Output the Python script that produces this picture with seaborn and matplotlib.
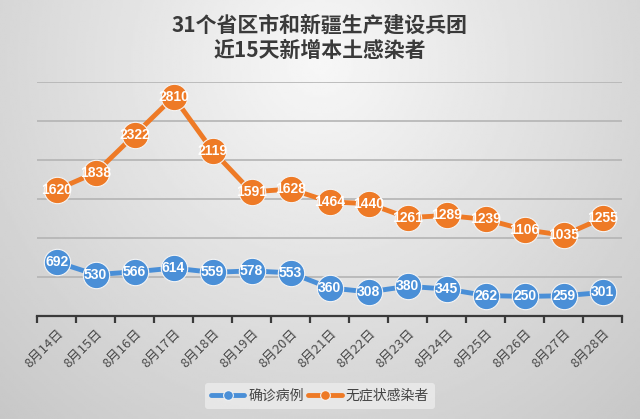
import numpy as np
import pandas as pd
import seaborn as sns
from matplotlib import pyplot as plt
import matplotlib.ticker as mtick

# data
dates = ['8月14日', '8月15日', '8月16日', '8月17日', '8月18日', '8月19日', '8月20日', '8月21日',
         '8月22日', '8月23日', '8月24日', '8月25日', '8月26日', '8月27日', '8月28日']
confirmed = [692, 530, 566, 614, 559, 578, 553, 360, 308, 380, 345, 262, 250, 259, 301]
asymptomatic = [1620, 1838, 2322, 2810, 2119, 1591, 1628, 1464, 1440, 1261, 1289, 1239, 1106, 1035, 1255]
series_names = ['确诊病例', '无症状感染者']
title = '31个省区市和新疆生产建设兵团\n近15天新增本土感染者'

sns.set_theme(style='white')
plt.rcParams['font.family'] = ['Noto Sans CJK SC', 'DejaVu Sans']

df = pd.concat([
    pd.DataFrame({'date': dates, 'value': confirmed, 'series': series_names[0]}),
    pd.DataFrame({'date': dates, 'value': asymptomatic, 'series': series_names[1]}),
])
palette = {series_names[0]: '#4a8fd7', series_names[1]: '#ee7a26'}

fig = plt.figure(figsize=(6.4, 4.19), dpi=100)

# soft gray gradient background
bg = fig.add_axes([0, 0, 1, 1], zorder=-1)
yy, xx = np.mgrid[0:1:200j, 0:1:300j]
dist = np.sqrt(((xx - 0.5) / 0.7) ** 2 + ((yy - 0.15) / 1.1) ** 2)
bg.imshow(0.97 - 0.18 * dist, cmap='gray', vmin=0, vmax=1, aspect='auto', extent=(0, 1, 1, 0))
bg.axis('off')

ax = fig.add_axes([0.058, 0.246, 0.914, 0.558])
ax.set_facecolor('none')

sns.lineplot(data=df, x='date', y='value', hue='series', palette=palette, ax=ax,
             marker='o', markersize=19, linewidth=3.5, markeredgewidth=0.8,
             markeredgecolor='#f4f4f4', sort=False, legend=True)

# white numbers inside the markers
for name, values in zip(series_names, [confirmed, asymptomatic]):
    for i, v in enumerate(values):
        ax.text(i, v, str(v), ha='center', va='center', color='white', fontsize=10,
                fontweight='bold', family='Liberation Sans', zorder=5)

ax.set_xlim(-0.5, len(dates) - 0.5)
ax.set_ylim(0, 3000)
ax.yaxis.set_major_locator(mtick.MultipleLocator(500))
ax.yaxis.grid(True, color='#b4b4b4', linewidth=1.2)
ax.set_yticklabels([])
ax.tick_params(axis='y', length=0)
for side in ['left', 'right', 'top']:
    ax.spines[side].set_visible(False)
ax.spines['bottom'].set_color('#3a3a3a')
ax.spines['bottom'].set_linewidth(1.6)

ax.set_xticks(range(len(dates)))
ax.set_xticklabels(dates, rotation=45, ha='right', rotation_mode='anchor',
                   color='#4a4a4a', fontsize=9.5)
ax.xaxis.set_minor_locator(mtick.FixedLocator(np.arange(-0.5, len(dates), 1)))
ax.tick_params(axis='x', which='major', length=0, pad=8)
ax.tick_params(axis='x', which='minor', bottom=True, length=5, width=1.6, color='#3a3a3a')
ax.set_xlabel('')
ax.set_ylabel('')

handles, labels = ax.get_legend_handles_labels()
ax.get_legend().remove()
for h in handles:
    h.set_markersize(7)
leg = fig.legend(handles, labels, loc='center', bbox_to_anchor=(0.5, 0.055), ncol=2,
                 frameon=True, fontsize=10, handlelength=2.4, columnspacing=0.3,
                 handletextpad=0.3, borderpad=0.4)
leg.get_frame().set_facecolor('#ececec')
leg.get_frame().set_edgecolor('none')
for t in leg.get_texts():
    t.set_color('#444444')

fig.text(0.5, 0.91, title, ha='center', va='center', fontsize=15, fontweight='bold',
         color='#3a3a3a', linespacing=1.3)

plt.savefig('out.png', dpi=100)
